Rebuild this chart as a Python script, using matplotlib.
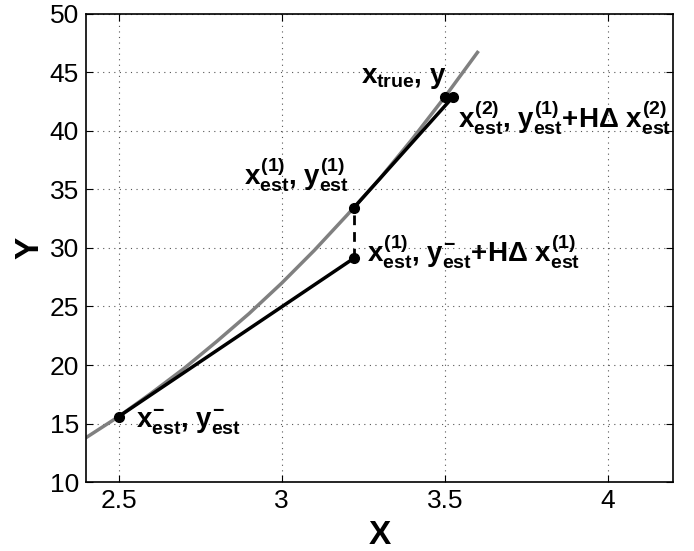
import matplotlib
matplotlib.use("Agg")
import matplotlib.pyplot as plt

plt.rcParams['font.family'] = ['Liberation Sans', 'DejaVu Sans']
plt.rcParams['mathtext.fontset'] = 'custom'
plt.rcParams['mathtext.rm'] = 'Liberation Sans:bold'
plt.rcParams['mathtext.it'] = 'Liberation Sans:bold'
plt.rcParams['mathtext.bf'] = 'Liberation Sans:bold'
plt.rcParams['mathtext.sf'] = 'Liberation Sans:bold'

curve_x = [2.4, 2.5, 2.6, 2.7, 2.8, 2.9, 3.0, 3.1, 3.2, 3.3, 3.4, 3.5, 3.6]
curve_y = [13.8, 15.6, 17.6, 19.7, 22.0, 24.4, 27.0, 29.8, 32.8, 35.9, 39.3, 42.9, 46.7]

# iteration points
x0, y0 = 2.5, 15.6          # initial estimate
x1, y1_lin = 3.22, 29.1     # first linearised step
y1 = 33.4                   # curve value at x1
x2, y2_lin = 3.525, 42.9    # second linearised step
xt, yt = 3.5, 42.9          # true point

fig = plt.figure(figsize=(6.94, 5.51), dpi=100)
ax = fig.add_axes([0.124, 0.125, 0.846, 0.850])

ax.plot(curve_x, curve_y, color='#808080', lw=2.5, zorder=2)
ax.plot([x0, x1], [y0, y1_lin], color='k', lw=2.5, zorder=3)
ax.plot([x1, x1], [y1_lin, y1], color='k', lw=2, ls=(0, (3.5, 2.5)), zorder=3)
ax.plot([x1, x2], [y1, y2_lin], color='k', lw=2.5, zorder=3)
ax.plot([x0, x1, x1, xt, x2], [y0, y1_lin, y1, yt, y2_lin], 'o',
        color='k', ms=7, zorder=4)

fs = 20
kw = dict(fontsize=fs, fontweight='bold')
ax.text(3.505, 43.4, r'$x_{true}$, $y$', ha='right', va='bottom', **kw)
ax.text(3.54, 42.8, r'$x^{(2)}_{est}$, $y^{(1)}_{est}$+H$\Delta$ $x^{(2)}_{est}$',
        ha='left', va='top', **kw)
ax.text(3.205, 36.3, r'$x^{(1)}_{est}$, $y^{(1)}_{est}$', ha='right', va='center', **kw)
ax.text(3.262, 29.7, r'$x^{(1)}_{est}$, $y^{-}_{est}$+H$\Delta$ $x^{(1)}_{est}$',
        ha='left', va='center', **kw)
ax.text(2.553, 15.1, r'$x^{-}_{est}$, $y^{-}_{est}$', ha='left', va='center', **kw)

ax.set_xlim(2.4, 4.2)
ax.set_ylim(10, 50)
ax.set_xticks([2.5, 3, 3.5, 4])
ax.set_xticklabels(['2.5', '3', '3.5', '4'])
ax.set_yticks([10, 15, 20, 25, 30, 35, 40, 45, 50])
ax.tick_params(direction='in', labelsize=19, length=5, top=True, right=True, pad=5)
ax.grid(True, ls=(0, (1, 4)), color='#555555', lw=0.8)
for s in ax.spines.values():
    s.set_linewidth(1.2)

ax.set_xlabel('X', fontsize=24, fontweight='bold', labelpad=5)
ax.set_ylabel('Y', fontsize=24, fontweight='bold', labelpad=3)

fig.savefig('out.png', dpi=100)
